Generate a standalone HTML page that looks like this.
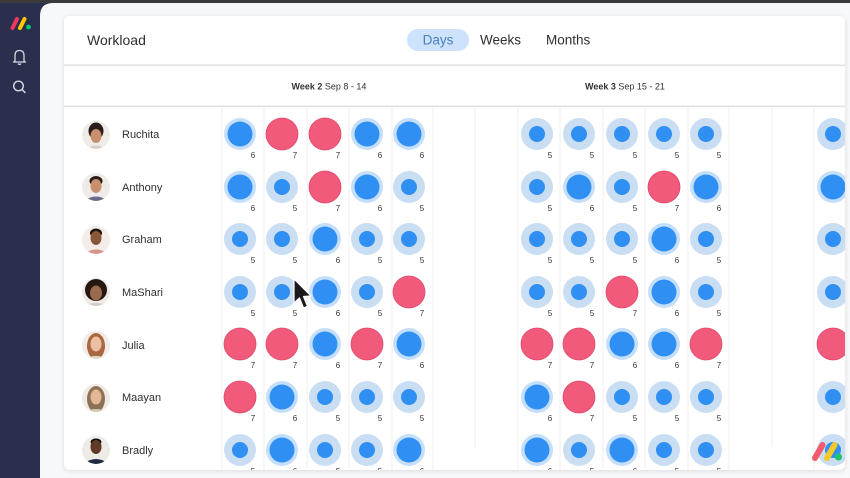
<!DOCTYPE html>
<html>
<head>
<meta charset="utf-8">
<style>
  html,body{margin:0;padding:0;}
  body{width:850px;height:478px;overflow:hidden;background:#292f4c;font-family:"Liberation Sans",sans-serif;}
  svg{display:block;}
</style>
</head>
<body>
<svg width="850" height="478" viewBox="0 0 850 478" xmlns="http://www.w3.org/2000/svg" font-family="Liberation Sans, sans-serif">
  <defs>
    <g id="c7"><circle r="16" fill="#f25a7c" stroke="#dd4b6c" stroke-width="0.8"/></g>
    <g id="c6"><circle r="16" fill="#c5dffa"/><circle r="12.5" fill="#2f8ff3"/></g>
    <g id="c5"><circle r="16" fill="#c9ddf3"/><circle r="8" fill="#2f8ff3"/></g>
    <clipPath id="card"><rect x="64" y="16" width="781" height="454" rx="6"/></clipPath>
    <clipPath id="av"><circle r="14"/></clipPath>
    <filter id="sh" x="-5%" y="-5%" width="110%" height="115%">
      <feDropShadow dx="0" dy="1" stdDeviation="2" flood-color="#000" flood-opacity="0.12"/>
    </filter>
  </defs>

  <!-- top strip -->
  <rect x="0" y="0" width="850" height="3" fill="#3b3b3e"/>
  <!-- sidebar -->
  <rect x="0" y="3" width="40" height="475" fill="#292f4c"/>
  <!-- main area -->
  <path d="M40,16 Q40,3 53,3 L850,3 L850,478 L40,478 Z" fill="#f7f8fa"/>

  <!-- sidebar logo -->
  <line x1="12.5" y1="28" x2="17" y2="19" stroke="#f2365e" stroke-width="4" stroke-linecap="round"/>
  <line x1="20" y1="28" x2="24.5" y2="19" stroke="#ffcb00" stroke-width="4" stroke-linecap="round"/>
  <circle cx="28.5" cy="27" r="2.4" fill="#00c875"/>
  <!-- bell -->
  <path d="M15,61 L15,55.5 Q15,50.5 19.5,50.5 Q24,50.5 24,55.5 L24,61 L25.5,62 L13.5,62 Z" fill="none" stroke="#d4d7e3" stroke-width="1.3" stroke-linejoin="round"/>
  <path d="M18,63.5 Q19.5,65.5 21,63.5" fill="none" stroke="#d4d7e3" stroke-width="1.3"/>
  <!-- search -->
  <circle cx="18.5" cy="86" r="4.8" fill="none" stroke="#d4d7e3" stroke-width="1.4"/>
  <line x1="22" y1="89.5" x2="25" y2="92.5" stroke="#d4d7e3" stroke-width="1.5" stroke-linecap="round"/>

  <!-- card -->
  <rect x="64" y="16" width="781" height="454" rx="6" fill="#ffffff" filter="url(#sh)"/>

  <g clip-path="url(#card)">
    <!-- header -->
    <text x="87" y="45" font-size="14" fill="#2f2f33">Workload</text>
    <rect x="407" y="29" width="62" height="22" rx="11" fill="#cce3fb"/>
    <text x="438" y="44.5" font-size="13.5" fill="#4a7fc0" text-anchor="middle">Days</text>
    <text x="480" y="44.5" font-size="13.5" fill="#2f2f33">Weeks</text>
    <text x="546" y="44.5" font-size="13.5" fill="#2f2f33">Months</text>

    <rect x="64" y="64.5" width="781" height="1.6" fill="#e1e1e3"/>
    <text x="329" y="89.5" font-size="9" fill="#333" text-anchor="middle"><tspan font-weight="bold">Week 2</tspan> Sep 8 - 14</text>
    <text x="625" y="89.5" font-size="9" fill="#333" text-anchor="middle"><tspan font-weight="bold">Week 3</tspan> Sep 15 - 21</text>
    <rect x="64" y="105.5" width="781" height="1.6" fill="#e1e1e3"/>

    <!-- vertical grid lines -->
    <g stroke="#efeff1" stroke-width="1">
      <line x1="222" y1="107" x2="222" y2="470"/>
      <line x1="264" y1="107" x2="264" y2="470"/>
      <line x1="307" y1="107" x2="307" y2="470"/>
      <line x1="349" y1="107" x2="349" y2="470"/>
      <line x1="392" y1="107" x2="392" y2="470"/>
      <line x1="433" y1="107" x2="433" y2="470"/>
      <line x1="475" y1="107" x2="475" y2="447"/>
      <line x1="518" y1="107" x2="518" y2="470"/>
      <line x1="560" y1="107" x2="560" y2="470"/>
      <line x1="603" y1="107" x2="603" y2="470"/>
      <line x1="645" y1="107" x2="645" y2="470"/>
      <line x1="688" y1="107" x2="688" y2="470"/>
      <line x1="729" y1="107" x2="729" y2="470"/>
      <line x1="772" y1="107" x2="772" y2="447"/>
      <line x1="814" y1="107" x2="814" y2="470"/>
    </g>

    <!-- names -->
    <g font-size="11" fill="#2f2f33">
      <text x="122" y="138">Ruchita</text>
      <text x="122" y="191">Anthony</text>
      <text x="122" y="243">Graham</text>
      <text x="122" y="296">MaShari</text>
      <text x="122" y="349">Julia</text>
      <text x="122" y="401">Maayan</text>
      <text x="122" y="454">Bradly</text>
    </g>

    <!-- avatars -->
    <g transform="translate(96,135)"><g clip-path="url(#av)"><rect x="-14" y="-14" width="28" height="28" fill="#efebe7"/><ellipse cx="0" cy="-4" rx="7.5" ry="8.5" fill="#2a1e18"/><ellipse cx="0" cy="1" rx="5.5" ry="7" fill="#c98f6e"/><path d="M-10,14 Q0,7 10,14 Z" fill="#d8cfc6"/></g></g>
    <g transform="translate(96,187)"><g clip-path="url(#av)"><rect x="-14" y="-14" width="28" height="28" fill="#efebe9"/><ellipse cx="0" cy="-6" rx="6.5" ry="5" fill="#2b1d15"/><ellipse cx="0" cy="-1" rx="5.5" ry="7" fill="#c98e6d"/><path d="M-12,14 Q0,5 12,14 Z" fill="#6b6a8a"/></g></g>
    <g transform="translate(96,240)"><g clip-path="url(#av)"><rect x="-14" y="-14" width="28" height="28" fill="#f3ece9"/><ellipse cx="0" cy="-7" rx="6" ry="4.5" fill="#1e130e"/><ellipse cx="0" cy="-2" rx="5.5" ry="7" fill="#8a5638"/><path d="M-12,14 Q0,5 12,14 Z" fill="#d9948a"/></g></g>
    <g transform="translate(96,292)"><g clip-path="url(#av)"><rect x="-14" y="-14" width="28" height="28" fill="#eeeae7"/><ellipse cx="0" cy="-2" rx="11" ry="11" fill="#231710"/><ellipse cx="0" cy="1" rx="6" ry="7.5" fill="#9a6a4c"/><path d="M-12,14 Q0,8 12,14 Z" fill="#d6c8bc"/></g></g>
    <g transform="translate(96,345)"><g clip-path="url(#av)"><rect x="-14" y="-14" width="28" height="28" fill="#f1ece8"/><ellipse cx="0" cy="1" rx="9" ry="13" fill="#a9683f"/><ellipse cx="0" cy="-1" rx="5.5" ry="7.5" fill="#ebc0a4"/><path d="M-12,14 Q0,8 12,14 Z" fill="#e6dbd0"/></g></g>
    <g transform="translate(96,398)"><g clip-path="url(#av)"><rect x="-14" y="-14" width="28" height="28" fill="#eeeae6"/><ellipse cx="0" cy="1" rx="9" ry="13" fill="#8d7257"/><ellipse cx="0" cy="-1" rx="5.5" ry="7.5" fill="#e3b896"/><path d="M-12,14 Q0,8 12,14 Z" fill="#d8cabb"/></g></g>
    <g transform="translate(96,450)"><g clip-path="url(#av)"><rect x="-14" y="-14" width="28" height="28" fill="#eeeae6"/><ellipse cx="0" cy="-8" rx="5.5" ry="3.5" fill="#140c08"/><ellipse cx="0" cy="-3" rx="5.5" ry="7" fill="#5c3a26"/><path d="M-13,14 Q0,4 13,14 Z" fill="#1e2a44"/></g></g>

    <!-- circles: row 0 Ruchita y=134 -->
    <use href="#c6" x="240" y="134"/><use href="#c7" x="282" y="134"/><use href="#c7" x="325" y="134"/><use href="#c6" x="367" y="134"/><use href="#c6" x="409" y="134"/>
    <use href="#c5" x="537" y="134"/><use href="#c5" x="579" y="134"/><use href="#c5" x="622" y="134"/><use href="#c5" x="664" y="134"/><use href="#c5" x="706" y="134"/><use href="#c5" x="833" y="134"/>
    <!-- row 1 Anthony y=187 -->
    <use href="#c6" x="240" y="187"/><use href="#c5" x="282" y="187"/><use href="#c7" x="325" y="187"/><use href="#c6" x="367" y="187"/><use href="#c5" x="409" y="187"/>
    <use href="#c5" x="537" y="187"/><use href="#c6" x="579" y="187"/><use href="#c5" x="622" y="187"/><use href="#c7" x="664" y="187"/><use href="#c6" x="706" y="187"/><use href="#c6" x="833" y="187"/>
    <!-- row 2 Graham y=239 -->
    <use href="#c5" x="240" y="239"/><use href="#c5" x="282" y="239"/><use href="#c6" x="325" y="239"/><use href="#c5" x="367" y="239"/><use href="#c5" x="409" y="239"/>
    <use href="#c5" x="537" y="239"/><use href="#c5" x="579" y="239"/><use href="#c5" x="622" y="239"/><use href="#c6" x="664" y="239"/><use href="#c5" x="706" y="239"/><use href="#c5" x="833" y="239"/>
    <!-- row 3 MaShari y=292 -->
    <use href="#c5" x="240" y="292"/><use href="#c5" x="282" y="292"/><use href="#c6" x="325" y="292"/><use href="#c5" x="367" y="292"/><use href="#c7" x="409" y="292"/>
    <use href="#c5" x="537" y="292"/><use href="#c5" x="579" y="292"/><use href="#c7" x="622" y="292"/><use href="#c6" x="664" y="292"/><use href="#c5" x="706" y="292"/><use href="#c5" x="833" y="292"/>
    <!-- row 4 Julia y=344 -->
    <use href="#c7" x="240" y="344"/><use href="#c7" x="282" y="344"/><use href="#c6" x="325" y="344"/><use href="#c7" x="367" y="344"/><use href="#c6" x="409" y="344"/>
    <use href="#c7" x="537" y="344"/><use href="#c7" x="579" y="344"/><use href="#c6" x="622" y="344"/><use href="#c6" x="664" y="344"/><use href="#c7" x="706" y="344"/><use href="#c7" x="833" y="344"/>
    <!-- row 5 Maayan y=397 -->
    <use href="#c7" x="240" y="397"/><use href="#c6" x="282" y="397"/><use href="#c5" x="325" y="397"/><use href="#c5" x="367" y="397"/><use href="#c5" x="409" y="397"/>
    <use href="#c6" x="537" y="397"/><use href="#c7" x="579" y="397"/><use href="#c5" x="622" y="397"/><use href="#c5" x="664" y="397"/><use href="#c5" x="706" y="397"/><use href="#c5" x="833" y="397"/>
    <!-- row 6 Bradly y=450 -->
    <use href="#c5" x="240" y="450"/><use href="#c6" x="282" y="450"/><use href="#c5" x="325" y="450"/><use href="#c5" x="367" y="450"/><use href="#c6" x="409" y="450"/>
    <use href="#c6" x="537" y="450"/><use href="#c5" x="579" y="450"/><use href="#c6" x="622" y="450"/><use href="#c5" x="664" y="450"/><use href="#c5" x="706" y="450"/><use href="#c5" x="833" y="450"/>

    <!-- value labels -->
    <g font-size="8" fill="#333" text-anchor="middle">
      <text x="253" y="158">6</text><text x="295" y="158">7</text><text x="338" y="158">7</text><text x="380" y="158">6</text><text x="422" y="158">6</text>
      <text x="550" y="158">5</text><text x="592" y="158">5</text><text x="635" y="158">5</text><text x="677" y="158">5</text><text x="719" y="158">5</text>

      <text x="253" y="211">6</text><text x="295" y="211">5</text><text x="338" y="211">7</text><text x="380" y="211">6</text><text x="422" y="211">5</text>
      <text x="550" y="211">5</text><text x="592" y="211">6</text><text x="635" y="211">5</text><text x="677" y="211">7</text><text x="719" y="211">6</text>

      <text x="253" y="263">5</text><text x="295" y="263">5</text><text x="338" y="263">6</text><text x="380" y="263">5</text><text x="422" y="263">5</text>
      <text x="550" y="263">5</text><text x="592" y="263">5</text><text x="635" y="263">5</text><text x="677" y="263">6</text><text x="719" y="263">5</text>

      <text x="253" y="316">5</text><text x="295" y="316">5</text><text x="338" y="316">6</text><text x="380" y="316">5</text><text x="422" y="316">7</text>
      <text x="550" y="316">5</text><text x="592" y="316">5</text><text x="635" y="316">7</text><text x="677" y="316">6</text><text x="719" y="316">5</text>

      <text x="253" y="368">7</text><text x="295" y="368">7</text><text x="338" y="368">6</text><text x="380" y="368">7</text><text x="422" y="368">6</text>
      <text x="550" y="368">7</text><text x="592" y="368">7</text><text x="635" y="368">6</text><text x="677" y="368">6</text><text x="719" y="368">7</text>

      <text x="253" y="421">7</text><text x="295" y="421">6</text><text x="338" y="421">5</text><text x="380" y="421">5</text><text x="422" y="421">5</text>
      <text x="550" y="421">6</text><text x="592" y="421">7</text><text x="635" y="421">5</text><text x="677" y="421">5</text><text x="719" y="421">5</text>

      <text x="253" y="474">5</text><text x="295" y="474">6</text><text x="338" y="474">5</text><text x="380" y="474">5</text><text x="422" y="474">6</text>
      <text x="550" y="474">6</text><text x="592" y="474">5</text><text x="635" y="474">6</text><text x="677" y="474">5</text><text x="719" y="474">5</text>
    </g>

    <!-- bottom-right logo -->
    <line x1="815" y1="458" x2="822.5" y2="445" stroke="#f25a6e" stroke-width="6" stroke-linecap="round"/>
    <line x1="827" y1="458" x2="834.5" y2="445" stroke="#f5c92a" stroke-width="6" stroke-linecap="round"/>
    <circle cx="838.5" cy="457" r="3.6" fill="#22c36a"/>
  </g>

  <!-- cursor -->
  <path d="M294,279 L294,303 L299.5,298 L303.5,308 L307.5,306.3 L303.5,296.5 L311,296 Z" fill="#1a1a1a" stroke="#ffffff" stroke-width="1.2" stroke-linejoin="round"/>
</svg>
</body>
</html>
